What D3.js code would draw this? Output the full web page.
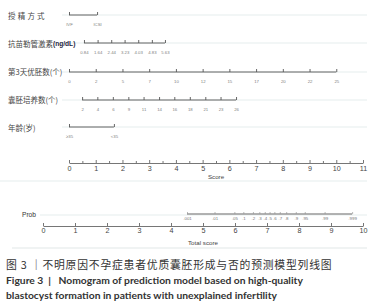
<!DOCTYPE html>
<html>
<head>
<meta charset="utf-8">
<script src="https://cdn.jsdelivr.net/npm/d3@7"></script>
<style>
  body { margin: 0; background: #fff; }
  svg { display: block; }
</style>
</head>
<body>
<div id="chart"></div>
<script>
// variable rows: name, tick labels
const rowNames = ['授精方式', '抗苗勒管激素', '第3天优胚数(个)', '囊胚培养数(个)', '年龄(岁)'];
const methodLabels = ['IVF', 'ICSI'];
const methodPoints = [0, 1.05];
const amhLabels = ['0.84', '1.64', '2.44', '3.23', '4.03', '4.83', '5.63'];
const amhPoints = [0.56, 1.07, 1.58, 2.08, 2.59, 3.10, 3.59];
const day3Labels = ['0', '2', '5', '7', '10', '12', '15', '17', '20', '22', '25'];
const day3Points = [0, 1, 2, 3, 4, 5, 6, 7, 8, 9, 10];
const cultureLabels = ['2', '4', '6', '9', '11', '14', '16', '18', '21', '23', '26'];
const culturePoints = [0.49, 1.06, 1.64, 2.22, 2.79, 3.37, 3.94, 4.52, 5.10, 5.67, 6.25];
const ageLabels = ['≥35', '<35'];
const agePoints = [0, 1.68];

const scoreTicks = d3.range(0, 12);
const totalTicks = d3.range(0, 11);

// probability labels and the total score where each sits
const probLabels = ['.001', '.01', '.05', '.1', '.2', '.3', '.4', '.5', '.6', '.7', '.8', '.9', '.95', '.99', '.999'];
const probTotals = [4.50, 5.36, 5.98, 6.26, 6.56, 6.76, 6.93, 7.08, 7.23, 7.40, 7.60, 7.90, 8.18, 8.80, 9.66];

const width = 380, height = 308;
const svg = d3.select('#chart').append('svg')
    .attr('width', width)
    .attr('height', height);

svg.append('rect').attr('width', width).attr('height', height).attr('fill', '#fff');

const x = d3.scaleLinear().domain([0, 11]).range([69, 363]);
const xt = d3.scaleLinear().domain([0, 10]).range([43, 363]);

const rows = [
    { labels: methodLabels, points: methodPoints, y: 15 },
    { labels: amhLabels, points: amhPoints, y: 43 },
    { labels: day3Labels, points: day3Points, y: 72 },
    { labels: cultureLabels, points: culturePoints, y: 100 },
    { labels: ageLabels, points: agePoints, y: 127 }
];

// faint guide lines
const guideY = rows.map(r => r.y).concat([181]);
svg.selectAll('.guide')
    .data(guideY)
    .enter().append('line')
    .attr('class', 'guide')
    .attr('x1', d => d === 181 ? 0 : 62)
    .attr('x2', 367)
    .attr('y1', d => d)
    .attr('y2', d => d)
    .attr('stroke', '#eef3f3')
    .attr('stroke-width', 1.5);

svg.append('line')
    .attr('x1', 40).attr('x2', 367).attr('y1', 215).attr('y2', 215)
    .attr('stroke', '#eef3f3').attr('stroke-width', 1.5);
svg.append('line')
    .attr('x1', 12).attr('x2', 367).attr('y1', 248).attr('y2', 248)
    .attr('stroke', '#f0f3f3').attr('stroke-width', 2);

// row labels
const rowLabelY = [16, 44, 72, 100, 128];
svg.selectAll('.row-label')
    .data(rowNames)
    .enter().append('text')
    .attr('class', 'row-label')
    .attr('x', 8)
    .attr('y', (d, i) => rowLabelY[i])
    .attr('dy', '0.35em')
    .attr('font-family', "'Noto Sans CJK SC', sans-serif")
    .attr('font-size', 7.5)
    .attr('letter-spacing', (d, i) => i === 0 ? 2.2 : 0)
    .attr('fill', '#444')
    .text(d => d);

svg.append('text')
    .attr('x', 53)
    .attr('y', 44)
    .attr('dy', '0.35em')
    .attr('font-family', "'Liberation Sans', Arial, sans-serif")
    .attr('font-size', 6.6)
    .attr('font-weight', 'bold')
    .attr('fill', '#1d2440')
    .text('(ng/dL)');

// variable axes
rows.forEach(r => {
    const g = svg.append('g').attr('transform', `translate(0,${r.y})`);
    g.append('line')
        .attr('x1', x(d3.min(r.points)))
        .attr('x2', x(d3.max(r.points)))
        .attr('stroke', '#555')
        .attr('stroke-width', 0.9);
    const axis = d3.axisBottom(x)
        .tickValues(r.points)
        .tickFormat((d, i) => r.labels[i])
        .tickSizeInner(-3)
        .tickSizeOuter(0)
        .tickPadding(8);
    g.call(axis);
    g.select('.domain').remove();
    g.selectAll('.tick line').attr('stroke', '#555').attr('stroke-width', 0.9);
    g.selectAll('.tick text')
        .attr('font-family', "'Liberation Sans', Arial, sans-serif")
        .attr('font-size', 4.3)
        .attr('fill', '#808080');
});

// Score axis
const scoreG = svg.append('g').attr('transform', 'translate(0,163)');
scoreG.call(d3.axisBottom(x)
    .tickValues(scoreTicks)
    .tickFormat(d3.format('d'))
    .tickSizeInner(-3)
    .tickSizeOuter(0)
    .tickPadding(3));
scoreG.append('g').call(d3.axisBottom(x)
    .tickValues(d3.range(0.5, 11, 1))
    .tickFormat('')
    .tickSizeInner(-2)
    .tickSizeOuter(0))
    .select('.domain').remove();
scoreG.selectAll('.domain').attr('stroke', '#666').attr('stroke-width', 0.9);
scoreG.selectAll('.tick line').attr('stroke', '#666').attr('stroke-width', 0.9);
scoreG.selectAll('.tick text')
    .attr('font-family', "'Liberation Sans', Arial, sans-serif")
    .attr('font-size', 7.2)
    .attr('fill', '#444');
svg.append('text')
    .attr('x', x(5.5))
    .attr('y', 179)
    .attr('text-anchor', 'middle')
    .attr('font-family', "'Liberation Sans', Arial, sans-serif")
    .attr('font-size', 6.2)
    .attr('fill', '#444')
    .text('Score');

// Prob row
svg.append('text')
    .attr('x', 22)
    .attr('y', 215)
    .attr('dy', '0.35em')
    .attr('font-family', "'Liberation Sans', Arial, sans-serif")
    .attr('font-size', 6.6)
    .attr('fill', '#333')
    .text('Prob');

const probG = svg.append('g').attr('transform', 'translate(0,214)');
probG.append('line')
    .attr('x1', xt(d3.min(probTotals)))
    .attr('x2', xt(d3.max(probTotals)))
    .attr('stroke', '#999')
    .attr('stroke-width', 1.6);
probG.call(d3.axisBottom(xt)
    .tickValues(probTotals)
    .tickFormat((d, i) => probLabels[i])
    .tickSizeInner(-2)
    .tickSizeOuter(0)
    .tickPadding(3));
probG.select('.domain').remove();
probG.selectAll('.tick line').attr('stroke', '#999').attr('stroke-width', 0.7);
probG.selectAll('.tick text')
    .attr('font-family', "'Liberation Sans', Arial, sans-serif")
    .attr('font-size', 4.4)
    .attr('fill', '#777');

// Total score axis
const totalG = svg.append('g').attr('transform', 'translate(0,226)');
totalG.call(d3.axisBottom(xt)
    .tickValues(totalTicks)
    .tickFormat(d3.format('d'))
    .tickSizeInner(-3)
    .tickSizeOuter(0)
    .tickPadding(2));
totalG.selectAll('.domain').attr('stroke', '#666').attr('stroke-width', 0.9);
totalG.selectAll('.tick line').attr('stroke', '#666').attr('stroke-width', 0.9);
totalG.selectAll('.tick text')
    .attr('font-family', "'Liberation Sans', Arial, sans-serif")
    .attr('font-size', 7.2)
    .attr('fill', '#444');
svg.append('text')
    .attr('x', xt(5))
    .attr('y', 245)
    .attr('text-anchor', 'middle')
    .attr('font-family', "'Liberation Sans', Arial, sans-serif")
    .attr('font-size', 6.2)
    .attr('fill', '#444')
    .text('Total score');

// caption
svg.append('text')
    .attr('x', 6)
    .attr('y', 269)
    .attr('font-family', "'Noto Sans CJK SC', sans-serif")
    .attr('font-size', 10.8)
    .attr('letter-spacing', 0.8)
    .attr('fill', '#333')
    .text('图 3 ｜不明原因不孕症患者优质囊胚形成与否的预测模型列线图');

svg.append('text')
    .attr('x', 6)
    .attr('y', 284)
    .attr('font-family', "Lato, 'Open Sans', sans-serif")
    .attr('font-size', 10.3)
    .attr('font-weight', 'bold')
    .attr('fill', '#333')
    .attr('xml:space', 'preserve')
    .text('Figure 3  |   Nomogram of prediction model based on high-quality');

svg.append('text')
    .attr('x', 6)
    .attr('y', 299)
    .attr('font-family', "Lato, 'Open Sans', sans-serif")
    .attr('font-size', 10.3)
    .attr('font-weight', 'bold')
    .attr('fill', '#333')
    .text('blastocyst formation in patients with unexplained infertility');
</script>
</body>
</html>
